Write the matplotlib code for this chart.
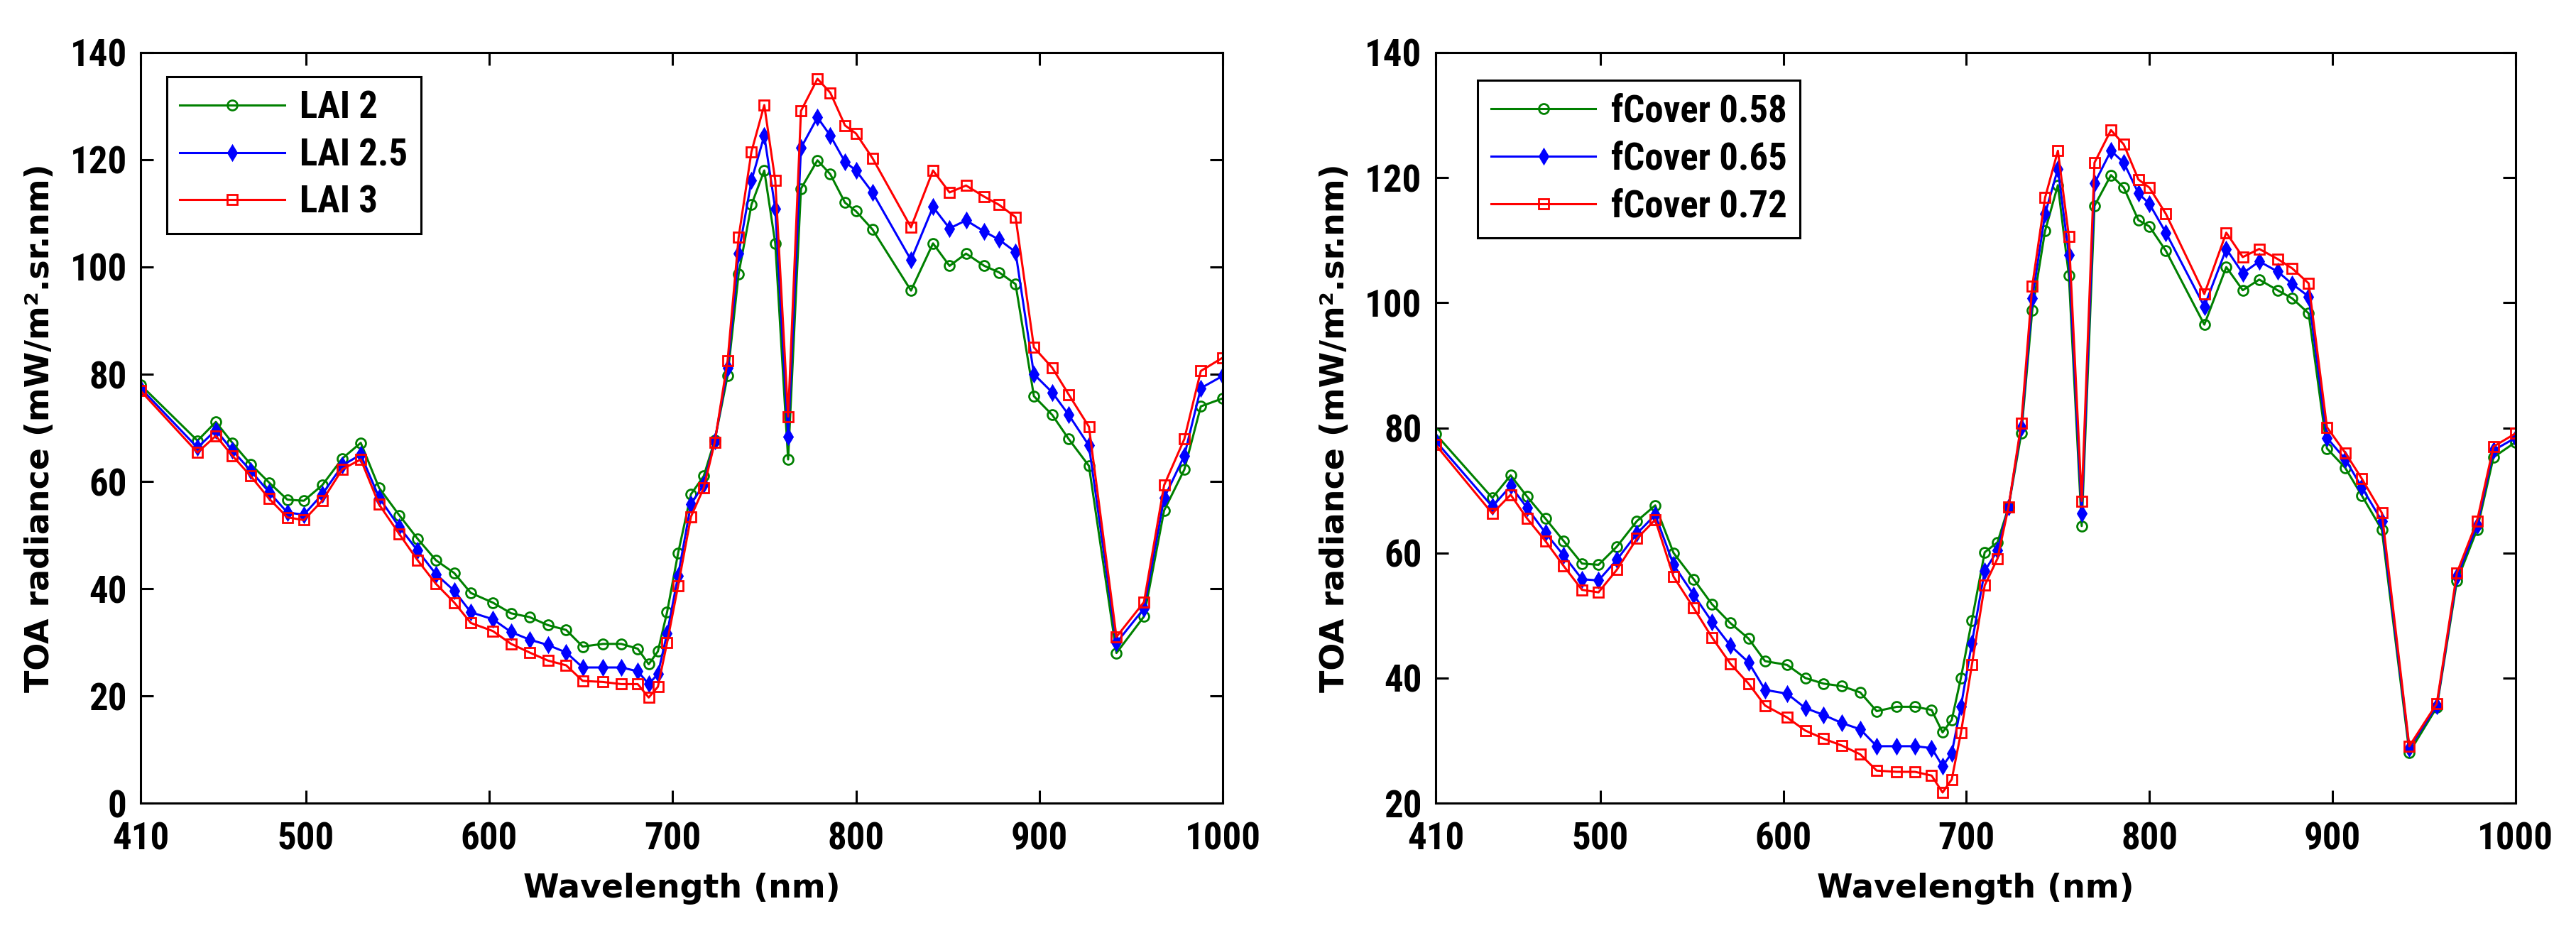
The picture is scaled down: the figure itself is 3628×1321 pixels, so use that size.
import matplotlib
matplotlib.use("Agg")
import matplotlib.pyplot as plt
from matplotlib import font_manager

# band centres (nm), same for both panels
wavelength = [410, 441, 451, 460, 470, 480, 490, 499, 509, 520, 530, 540, 551, 561, 571,
              581, 590, 602, 612, 622, 632, 642, 651, 662, 672, 681, 687, 692, 697, 703,
              710, 717, 723, 730, 736, 743, 750, 756, 763, 770, 779, 786, 794, 800, 809,
              830, 842, 851, 860, 870, 878, 887, 897, 907, 916, 927, 942, 957, 968, 979,
              988, 1000]

# left panel: LAI
lai_labels = ['LAI 2', 'LAI 2.5', 'LAI 3']
lai_2 = [78.0, 67.6, 71.1, 67.2, 63.2, 59.8, 56.6, 56.4, 59.3, 64.3, 67.2, 58.8, 53.7, 49.3, 45.3,
         42.9, 39.2, 37.4, 35.4, 34.7, 33.2, 32.3, 29.2, 29.7, 29.7, 28.8, 25.9, 28.3, 35.6, 46.6,
         57.6, 61.0, 67.7, 79.7, 98.7, 111.6, 118.0, 104.4, 64.1, 114.6, 119.9, 117.3, 112.0, 110.4, 107.0,
         95.6, 104.4, 100.2, 102.5, 100.2, 99.0, 96.8, 75.9, 72.4, 67.9, 62.9, 28.0, 34.8, 54.6, 62.2,
         74.0, 75.5]
lai_25 = [77.4, 66.3, 69.6, 65.8, 62.0, 58.0, 54.2, 53.8, 57.6, 63.0, 65.0, 57.0, 51.5, 47.1, 42.7,
          39.6, 35.6, 34.3, 31.9, 30.5, 29.5, 28.1, 25.3, 25.3, 25.3, 24.6, 22.2, 24.1, 31.6, 42.4,
          55.7, 59.5, 67.5, 81.2, 102.5, 116.1, 124.5, 110.8, 68.3, 122.2, 127.9, 124.5, 119.6, 118.0, 113.9,
          101.3, 111.2, 107.2, 108.7, 106.6, 105.1, 102.8, 80.0, 76.6, 72.4, 66.7, 29.9, 36.3, 56.9, 64.8,
          77.4, 79.7]
lai_3 = [76.9, 65.4, 68.5, 64.8, 61.0, 56.8, 53.3, 52.8, 56.4, 62.3, 64.1, 55.7, 50.2, 45.3, 40.9,
         37.4, 33.6, 32.1, 29.7, 28.1, 26.6, 25.7, 22.8, 22.6, 22.2, 22.2, 19.7, 21.7, 29.9, 40.5,
         53.4, 58.8, 67.3, 82.5, 105.5, 121.5, 130.2, 116.1, 72.1, 129.1, 135.1, 132.5, 126.4, 124.9, 120.3,
         107.4, 118.0, 113.9, 115.2, 113.1, 111.6, 109.3, 85.0, 81.2, 76.2, 70.2, 31.0, 37.5, 59.3, 67.9,
         80.6, 83.1]

# right panel: fCover
fc_labels = ['fCover 0.58', 'fCover 0.65', 'fCover 0.72']
fc_058 = [79.0, 68.8, 72.4, 69.0, 65.5, 61.9, 58.3, 58.1, 61.0, 65.1, 67.6, 60.0, 55.8, 51.8, 48.8,
          46.3, 42.7, 42.1, 40.0, 39.1, 38.7, 37.7, 34.7, 35.4, 35.4, 34.9, 31.3, 33.3, 40.0, 49.2,
          60.1, 61.7, 67.3, 79.1, 98.8, 111.5, 118.8, 104.3, 64.3, 115.5, 120.4, 118.4, 113.2, 112.2, 108.3,
          96.5, 105.7, 102.0, 103.7, 102.0, 100.7, 98.3, 76.7, 73.6, 69.2, 63.7, 28.1, 35.3, 55.5, 63.7,
          75.3, 77.7]
fc_065 = [77.9, 67.4, 70.7, 67.2, 63.2, 59.6, 55.8, 55.6, 58.9, 63.1, 66.1, 58.1, 53.3, 49.0, 45.2,
          42.5, 38.1, 37.5, 35.2, 34.1, 32.8, 31.8, 29.1, 29.1, 29.1, 28.8, 25.9, 28.0, 35.4, 45.6,
          57.1, 60.4, 67.3, 80.1, 100.7, 114.2, 121.4, 107.6, 66.3, 119.1, 124.3, 122.4, 117.5, 115.8, 111.2,
          99.4, 108.6, 104.7, 106.6, 105.0, 103.0, 101.0, 78.4, 75.0, 70.5, 65.1, 28.8, 35.6, 56.2, 64.4,
          76.4, 78.4]
fc_072 = [77.3, 66.3, 69.3, 65.5, 61.9, 57.9, 54.1, 53.7, 57.3, 62.3, 65.3, 56.2, 51.2, 46.5, 42.3,
          39.1, 35.6, 33.7, 31.6, 30.3, 29.2, 27.8, 25.2, 25.0, 25.0, 24.4, 21.7, 23.8, 31.2, 42.1,
          54.8, 59.1, 67.3, 80.7, 102.7, 116.8, 124.3, 110.6, 68.3, 122.4, 127.6, 125.3, 119.7, 118.4, 114.2,
          101.4, 111.2, 107.3, 108.6, 107.0, 105.5, 103.1, 80.1, 76.0, 71.9, 66.4, 29.1, 35.9, 56.8, 65.1,
          77.0, 79.1]

xticks = [410, 500, 600, 700, 800, 900, 1000]

# narrow font for ticks / legend (MATLAB screenshots use Arial Narrow-ish text)
names = {f.name for f in font_manager.fontManager.ttflist}
narrow = None
for n in ['Liberation Sans Narrow', 'Roboto Condensed', 'DejaVu Sans Condensed']:
    if n in names:
        narrow = n
        break
if narrow is None:
    narrow, tick_size = 'Liberation Sans', 32
else:
    tick_size = 38

styles = [dict(color=(0, 0.5, 0), marker='o', mfc='none'),
          dict(color=(0, 0, 1), marker='d', mfc=(0, 0, 1)),
          dict(color=(1, 0, 0), marker='s', mfc='none')]

fig = plt.figure(figsize=(36.28, 13.21), dpi=100)
ax1 = fig.add_axes([0.0546, 0.1438, 0.4201, 0.8002])
ax2 = fig.add_axes([0.5573, 0.1438, 0.4192, 0.8002])

panels = [(ax1, [lai_2, lai_25, lai_3], lai_labels, (0, 140), (0.024, 0.968)),
          (ax2, [fc_058, fc_065, fc_072], fc_labels, (20, 140), (0.039, 0.963))]

for ax, series, labels, ylim, legpos in panels:
    for vals, lab, st in zip(series, labels, styles):
        ax.plot(wavelength, vals, label=lab, lw=2.2, ms=10, mew=2.0, **st)
    ax.set_xlim(410, 1000)
    ax.set_ylim(*ylim)
    ax.set_xticks(xticks)
    ax.set_yticks(range(ylim[0], 141, 20))
    ax.tick_params(direction='in', length=13, width=2.2, top=True, right=True,
                   pad=14, labelsize=tick_size)
    ax.tick_params(axis='x', pad=18)
    for lbl in ax.get_xticklabels() + ax.get_yticklabels():
        lbl.set_fontfamily(narrow)
        lbl.set_fontweight('bold')
    for sp in ax.spines.values():
        sp.set_linewidth(2.2)
    ax.set_xlabel('Wavelength (nm)', fontsize=33, fontweight='bold', family='DejaVu Sans', labelpad=16)
    ax.set_ylabel('TOA radiance (mW/m\u00b2.sr.nm)', fontsize=33, fontweight='bold',
                  family='DejaVu Sans', labelpad=14)
    leg = ax.legend(loc='upper left', bbox_to_anchor=legpos, borderaxespad=0,
                    prop={'family': narrow, 'size': tick_size, 'weight': 'bold'},
                    fancybox=False, framealpha=1, edgecolor='black',
                    handlelength=2.8, handletextpad=0.4, labelspacing=0.3, borderpad=0.35)
    leg.get_frame().set_linewidth(2.2)

fig.savefig('out.png', dpi=100)
